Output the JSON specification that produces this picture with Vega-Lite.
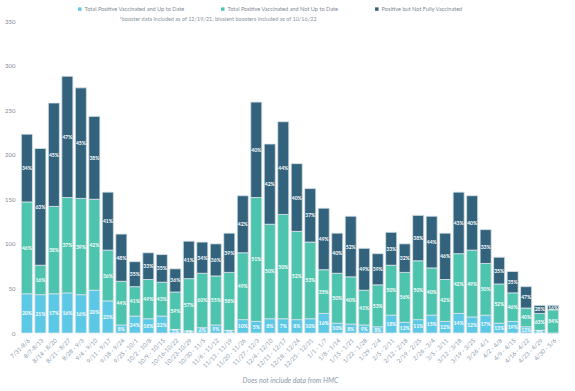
{
 "$schema": "https://vega.github.io/schema/vega-lite/v6.json",
 "width": 540, "height": 312,
 "autosize": {"type": "none"},
 "padding": {"left": 20, "top": 21, "right": 15, "bottom": 58},
 "background": "white",
 "config": {"view": {"stroke": null}, "font": "Lato"},
 "title": {"text": "*booster data included as of 12/19/21, bivalent boosters included as of 10/16/22", "anchor": "middle", "dx": -72, "dy": 16, "offset": 0, "fontSize": 5.5, "fontWeight": "normal", "color": "#8a96a0"},
 "data": {"values": [
  {"w":"7/31-8/6","s":"Total Positive Vaccinated and Up to Date","v":44,"p":"20%","o":1},
  {"w":"7/31-8/6","s":"Total Positive Vaccinated and Not Up to Date","v":103,"p":"46%","o":2},
  {"w":"7/31-8/6","s":"Positive but Not Fully Vaccinated","v":76,"p":"34%","o":3},
  {"w":"8/7-8/13","s":"Total Positive Vaccinated and Up to Date","v":43,"p":"21%","o":1},
  {"w":"8/7-8/13","s":"Total Positive Vaccinated and Not Up to Date","v":33,"p":"16%","o":2},
  {"w":"8/7-8/13","s":"Positive but Not Fully Vaccinated","v":131,"p":"63%","o":3},
  {"w":"8/14 - 8/20","s":"Total Positive Vaccinated and Up to Date","v":44,"p":"17%","o":1},
  {"w":"8/14 - 8/20","s":"Total Positive Vaccinated and Not Up to Date","v":98,"p":"38%","o":2},
  {"w":"8/14 - 8/20","s":"Positive but Not Fully Vaccinated","v":116,"p":"45%","o":3},
  {"w":"8/21 - 8/27","s":"Total Positive Vaccinated and Up to Date","v":45,"p":"16%","o":1},
  {"w":"8/21 - 8/27","s":"Total Positive Vaccinated and Not Up to Date","v":107,"p":"37%","o":2},
  {"w":"8/21 - 8/27","s":"Positive but Not Fully Vaccinated","v":136,"p":"47%","o":3},
  {"w":"8/28 - 9/3","s":"Total Positive Vaccinated and Up to Date","v":43,"p":"16%","o":1},
  {"w":"8/28 - 9/3","s":"Total Positive Vaccinated and Not Up to Date","v":108,"p":"39%","o":2},
  {"w":"8/28 - 9/3","s":"Positive but Not Fully Vaccinated","v":124,"p":"45%","o":3},
  {"w":"9/4 - 9/10","s":"Total Positive Vaccinated and Up to Date","v":48,"p":"20%","o":1},
  {"w":"9/4 - 9/10","s":"Total Positive Vaccinated and Not Up to Date","v":102,"p":"42%","o":2},
  {"w":"9/4 - 9/10","s":"Positive but Not Fully Vaccinated","v":93,"p":"38%","o":3},
  {"w":"9/11 - 9/17","s":"Total Positive Vaccinated and Up to Date","v":36,"p":"23%","o":1},
  {"w":"9/11 - 9/17","s":"Total Positive Vaccinated and Not Up to Date","v":57,"p":"36%","o":2},
  {"w":"9/11 - 9/17","s":"Positive but Not Fully Vaccinated","v":65,"p":"41%","o":3},
  {"w":"9/18 - 9/24","s":"Total Positive Vaccinated and Up to Date","v":9,"p":"8%","o":1},
  {"w":"9/18 - 9/24","s":"Total Positive Vaccinated and Not Up to Date","v":49,"p":"44%","o":2},
  {"w":"9/18 - 9/24","s":"Positive but Not Fully Vaccinated","v":53,"p":"48%","o":3},
  {"w":"9/25 - 10/1","s":"Total Positive Vaccinated and Up to Date","v":19,"p":"24%","o":1},
  {"w":"9/25 - 10/1","s":"Total Positive Vaccinated and Not Up to Date","v":33,"p":"41%","o":2},
  {"w":"9/25 - 10/1","s":"Positive but Not Fully Vaccinated","v":28,"p":"35%","o":3},
  {"w":"10/2 - 10/8","s":"Total Positive Vaccinated and Up to Date","v":16,"p":"18%","o":1},
  {"w":"10/2 - 10/8","s":"Total Positive Vaccinated and Not Up to Date","v":44,"p":"49%","o":2},
  {"w":"10/2 - 10/8","s":"Positive but Not Fully Vaccinated","v":30,"p":"33%","o":3},
  {"w":"10/9 - 10/15","s":"Total Positive Vaccinated and Up to Date","v":19,"p":"22%","o":1},
  {"w":"10/9 - 10/15","s":"Total Positive Vaccinated and Not Up to Date","v":38,"p":"43%","o":2},
  {"w":"10/9 - 10/15","s":"Positive but Not Fully Vaccinated","v":31,"p":"35%","o":3},
  {"w":"10/16-10/22","s":"Total Positive Vaccinated and Up to Date","v":4,"p":"5%","o":1},
  {"w":"10/16-10/22","s":"Total Positive Vaccinated and Not Up to Date","v":42,"p":"59%","o":2},
  {"w":"10/16-10/22","s":"Positive but Not Fully Vaccinated","v":26,"p":"36%","o":3},
  {"w":"10/23-10/29","s":"Total Positive Vaccinated and Up to Date","v":2,"p":"2%","o":1},
  {"w":"10/23-10/29","s":"Total Positive Vaccinated and Not Up to Date","v":59,"p":"57%","o":2},
  {"w":"10/23-10/29","s":"Positive but Not Fully Vaccinated","v":42,"p":"41%","o":3},
  {"w":"10/30 - 11/5","s":"Total Positive Vaccinated and Up to Date","v":6,"p":"6%","o":1},
  {"w":"10/30 - 11/5","s":"Total Positive Vaccinated and Not Up to Date","v":61,"p":"60%","o":2},
  {"w":"10/30 - 11/5","s":"Positive but Not Fully Vaccinated","v":35,"p":"34%","o":3},
  {"w":"11/6 - 11/12","s":"Total Positive Vaccinated and Up to Date","v":9,"p":"9%","o":1},
  {"w":"11/6 - 11/12","s":"Total Positive Vaccinated and Not Up to Date","v":55,"p":"55%","o":2},
  {"w":"11/6 - 11/12","s":"Positive but Not Fully Vaccinated","v":36,"p":"36%","o":3},
  {"w":"11/13 - 11/19","s":"Total Positive Vaccinated and Up to Date","v":3,"p":"3%","o":1},
  {"w":"11/13 - 11/19","s":"Total Positive Vaccinated and Not Up to Date","v":65,"p":"58%","o":2},
  {"w":"11/13 - 11/19","s":"Positive but Not Fully Vaccinated","v":44,"p":"39%","o":3},
  {"w":"11/20 - 11/26","s":"Total Positive Vaccinated and Up to Date","v":15,"p":"10%","o":1},
  {"w":"11/20 - 11/26","s":"Total Positive Vaccinated and Not Up to Date","v":75,"p":"49%","o":2},
  {"w":"11/20 - 11/26","s":"Positive but Not Fully Vaccinated","v":64,"p":"42%","o":3},
  {"w":"11/27 - 12/3","s":"Total Positive Vaccinated and Up to Date","v":13,"p":"5%","o":1},
  {"w":"11/27 - 12/3","s":"Total Positive Vaccinated and Not Up to Date","v":139,"p":"51%","o":2},
  {"w":"11/27 - 12/3","s":"Positive but Not Fully Vaccinated","v":107,"p":"40%","o":3},
  {"w":"12/4 - 12/10","s":"Total Positive Vaccinated and Up to Date","v":16,"p":"8%","o":1},
  {"w":"12/4 - 12/10","s":"Total Positive Vaccinated and Not Up to Date","v":106,"p":"50%","o":2},
  {"w":"12/4 - 12/10","s":"Positive but Not Fully Vaccinated","v":90,"p":"42%","o":3},
  {"w":"12/11 - 12/17","s":"Total Positive Vaccinated and Up to Date","v":16,"p":"7%","o":1},
  {"w":"12/11 - 12/17","s":"Total Positive Vaccinated and Not Up to Date","v":117,"p":"50%","o":2},
  {"w":"12/11 - 12/17","s":"Positive but Not Fully Vaccinated","v":104,"p":"44%","o":3},
  {"w":"12/18 - 12/24","s":"Total Positive Vaccinated and Up to Date","v":15,"p":"8%","o":1},
  {"w":"12/18 - 12/24","s":"Total Positive Vaccinated and Not Up to Date","v":99,"p":"52%","o":2},
  {"w":"12/18 - 12/24","s":"Positive but Not Fully Vaccinated","v":76,"p":"40%","o":3},
  {"w":"12/25 - 12/31","s":"Total Positive Vaccinated and Up to Date","v":16,"p":"10%","o":1},
  {"w":"12/25 - 12/31","s":"Total Positive Vaccinated and Not Up to Date","v":86,"p":"53%","o":2},
  {"w":"12/25 - 12/31","s":"Positive but Not Fully Vaccinated","v":60,"p":"37%","o":3},
  {"w":"1/1 - 1/7","s":"Total Positive Vaccinated and Up to Date","v":22,"p":"16%","o":1},
  {"w":"1/1 - 1/7","s":"Total Positive Vaccinated and Not Up to Date","v":49,"p":"35%","o":2},
  {"w":"1/1 - 1/7","s":"Positive but Not Fully Vaccinated","v":69,"p":"49%","o":3},
  {"w":"1/8 - 1/14","s":"Total Positive Vaccinated and Up to Date","v":11,"p":"10%","o":1},
  {"w":"1/8 - 1/14","s":"Total Positive Vaccinated and Not Up to Date","v":56,"p":"50%","o":2},
  {"w":"1/8 - 1/14","s":"Positive but Not Fully Vaccinated","v":45,"p":"40%","o":3},
  {"w":"1/15 - 1/21","s":"Total Positive Vaccinated and Up to Date","v":10,"p":"8%","o":1},
  {"w":"1/15 - 1/21","s":"Total Positive Vaccinated and Not Up to Date","v":53,"p":"40%","o":2},
  {"w":"1/15 - 1/21","s":"Positive but Not Fully Vaccinated","v":68,"p":"52%","o":3},
  {"w":"1/22 - 1/28","s":"Total Positive Vaccinated and Up to Date","v":9,"p":"9%","o":1},
  {"w":"1/22 - 1/28","s":"Total Positive Vaccinated and Not Up to Date","v":39,"p":"41%","o":2},
  {"w":"1/22 - 1/28","s":"Positive but Not Fully Vaccinated","v":47,"p":"49%","o":3},
  {"w":"1/29 - 2/4","s":"Total Positive Vaccinated and Up to Date","v":7,"p":"8%","o":1},
  {"w":"1/29 - 2/4","s":"Total Positive Vaccinated and Not Up to Date","v":47,"p":"53%","o":2},
  {"w":"1/29 - 2/4","s":"Positive but Not Fully Vaccinated","v":35,"p":"39%","o":3},
  {"w":"2/5 - 2/11","s":"Total Positive Vaccinated and Up to Date","v":20,"p":"18%","o":1},
  {"w":"2/5 - 2/11","s":"Total Positive Vaccinated and Not Up to Date","v":56,"p":"50%","o":2},
  {"w":"2/5 - 2/11","s":"Positive but Not Fully Vaccinated","v":37,"p":"33%","o":3},
  {"w":"2/12 - 2/18","s":"Total Positive Vaccinated and Up to Date","v":12,"p":"12%","o":1},
  {"w":"2/12 - 2/18","s":"Total Positive Vaccinated and Not Up to Date","v":56,"p":"56%","o":2},
  {"w":"2/12 - 2/18","s":"Positive but Not Fully Vaccinated","v":32,"p":"32%","o":3},
  {"w":"2/19 - 2/25","s":"Total Positive Vaccinated and Up to Date","v":15,"p":"11%","o":1},
  {"w":"2/19 - 2/25","s":"Total Positive Vaccinated and Not Up to Date","v":66,"p":"50%","o":2},
  {"w":"2/19 - 2/25","s":"Positive but Not Fully Vaccinated","v":51,"p":"38%","o":3},
  {"w":"2/26 - 3/4","s":"Total Positive Vaccinated and Up to Date","v":20,"p":"15%","o":1},
  {"w":"2/26 - 3/4","s":"Total Positive Vaccinated and Not Up to Date","v":53,"p":"40%","o":2},
  {"w":"2/26 - 3/4","s":"Positive but Not Fully Vaccinated","v":58,"p":"44%","o":3},
  {"w":"3/5 - 3/11","s":"Total Positive Vaccinated and Up to Date","v":13,"p":"12%","o":1},
  {"w":"3/5 - 3/11","s":"Total Positive Vaccinated and Not Up to Date","v":47,"p":"42%","o":2},
  {"w":"3/5 - 3/11","s":"Positive but Not Fully Vaccinated","v":52,"p":"46%","o":3},
  {"w":"3/12 - 3/18","s":"Total Positive Vaccinated and Up to Date","v":22,"p":"14%","o":1},
  {"w":"3/12 - 3/18","s":"Total Positive Vaccinated and Not Up to Date","v":67,"p":"42%","o":2},
  {"w":"3/12 - 3/18","s":"Positive but Not Fully Vaccinated","v":69,"p":"43%","o":3},
  {"w":"3/19 - 3/25","s":"Total Positive Vaccinated and Up to Date","v":18,"p":"12%","o":1},
  {"w":"3/19 - 3/25","s":"Total Positive Vaccinated and Not Up to Date","v":75,"p":"49%","o":2},
  {"w":"3/19 - 3/25","s":"Positive but Not Fully Vaccinated","v":61,"p":"40%","o":3},
  {"w":"3/26 - 4/1","s":"Total Positive Vaccinated and Up to Date","v":20,"p":"17%","o":1},
  {"w":"3/26 - 4/1","s":"Total Positive Vaccinated and Not Up to Date","v":58,"p":"50%","o":2},
  {"w":"3/26 - 4/1","s":"Positive but Not Fully Vaccinated","v":38,"p":"33%","o":3},
  {"w":"4/2 - 4/8","s":"Total Positive Vaccinated and Up to Date","v":11,"p":"13%","o":1},
  {"w":"4/2 - 4/8","s":"Total Positive Vaccinated and Not Up to Date","v":44,"p":"52%","o":2},
  {"w":"4/2 - 4/8","s":"Positive but Not Fully Vaccinated","v":30,"p":"35%","o":3},
  {"w":"4/9 - 4/15","s":"Total Positive Vaccinated and Up to Date","v":13,"p":"19%","o":1},
  {"w":"4/9 - 4/15","s":"Total Positive Vaccinated and Not Up to Date","v":32,"p":"46%","o":2},
  {"w":"4/9 - 4/15","s":"Positive but Not Fully Vaccinated","v":24,"p":"35%","o":3},
  {"w":"4/16 - 4/22","s":"Total Positive Vaccinated and Up to Date","v":7,"p":"13%","o":1},
  {"w":"4/16 - 4/22","s":"Total Positive Vaccinated and Not Up to Date","v":21,"p":"40%","o":2},
  {"w":"4/16 - 4/22","s":"Positive but Not Fully Vaccinated","v":24,"p":"47%","o":3},
  {"w":"4/23 - 4/29","s":"Total Positive Vaccinated and Up to Date","v":3,"p":"8%","o":1},
  {"w":"4/23 - 4/29","s":"Total Positive Vaccinated and Not Up to Date","v":19,"p":"63%","o":2},
  {"w":"4/23 - 4/29","s":"Positive but Not Fully Vaccinated","v":9,"p":"28%","o":3},
  {"w":"4/30 - 5/6","s":"Total Positive Vaccinated and Up to Date","v":0,"p":"","o":1},
  {"w":"4/30 - 5/6","s":"Total Positive Vaccinated and Not Up to Date","v":26,"p":"84%","o":2},
  {"w":"4/30 - 5/6","s":"Positive but Not Fully Vaccinated","v":5,"p":"16%","o":3}
 ]},
 "transform": [
  {"stack": "v", "groupby": ["w"], "sort": [{"field": "o"}], "as": ["y0", "y1"]},
  {"calculate": "(datum.y0 + datum.y1) / 2", "as": "ym"}
 ],
 "encoding": {
  "x": {"field": "w", "type": "nominal", "sort": null,
        "scale": {"paddingInner": 0.18, "paddingOuter": 0.1},
        "axis": {"labelAngle": -45, "labelFontSize": 6, "labelColor": "#8a9bb0", "ticks": false, "domain": false, "labelPadding": 4,
                 "title": "Does not include data from HMC", "titleFontStyle": "italic", "titleFontWeight": "normal", "titleFontSize": 7, "titleColor": "#8a9aaa", "titlePadding": 8}}
 },
 "layer": [
  {"mark": {"type": "bar", "stroke": "#dbe4ea", "strokeWidth": 0.8},
   "encoding": {
    "y": {"field": "y0", "type": "quantitative", "scale": {"domain": [0, 350]},
          "axis": {"values": [0, 50, 100, 150, 200, 250, 300, 350], "title": null, "grid": false, "ticks": false, "domain": false, "labelPadding": 5, "labelFontSize": 6, "labelColor": "#7f8a94"}},
    "y2": {"field": "y1"},
    "color": {"field": "s", "type": "nominal",
              "scale": {"domain": ["Total Positive Vaccinated and Up to Date", "Total Positive Vaccinated and Not Up to Date", "Positive but Not Fully Vaccinated"], "range": ["#5bc8e6", "#4dc4ae", "#33627d"]},
              "legend": {"orient": "none", "legendX": 57, "legendY": -15, "direction": "horizontal", "title": null, "symbolType": "square", "symbolSize": 12, "symbolStrokeWidth": 0, "labelFontSize": 5.6, "labelColor": "#7f8a94", "columnPadding": 35, "labelOffset": 2}}
   }},
  {"mark": {"type": "text", "color": "white", "fontSize": 5, "fontWeight": "bold"},
   "encoding": {"y": {"field": "ym", "type": "quantitative"}, "text": {"field": "p"}}}
 ]
}
